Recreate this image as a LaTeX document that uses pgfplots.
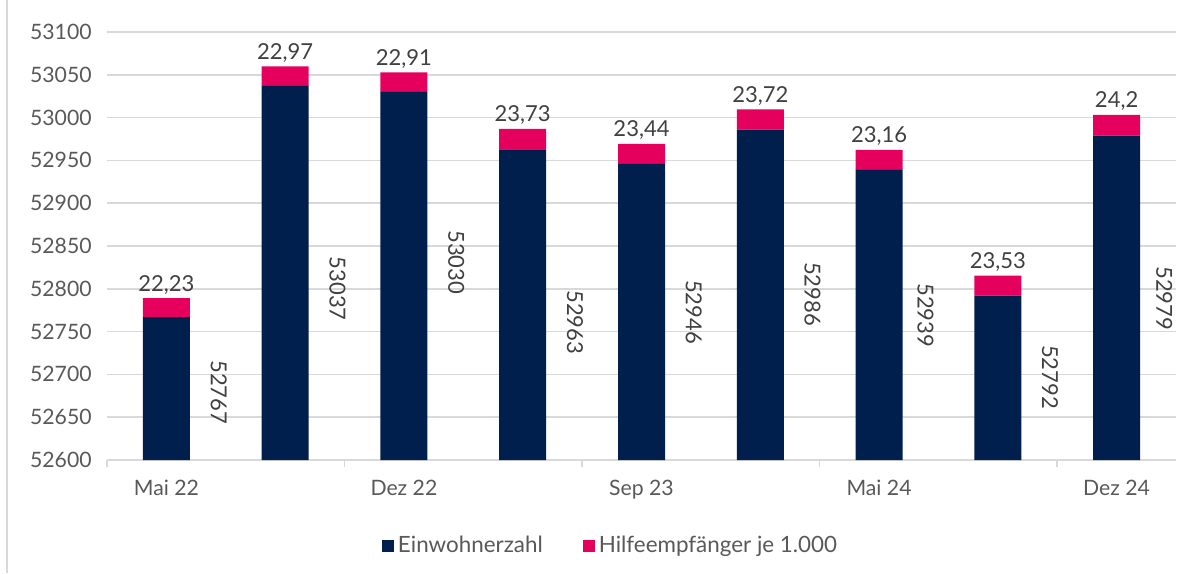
\documentclass[border=0pt]{standalone}
\usepackage{fontspec}
\setmainfont{Lato}
\usepackage{pgfplots}
\pgfplotsset{compat=1.18}
\usepackage{pgfplotstable}
\definecolor{navy}{HTML}{001F4D}
\definecolor{pinkc}{HTML}{E5005E}
\definecolor{gridc}{HTML}{D9D9D9}
\definecolor{tickc}{HTML}{595959}
\definecolor{lblc}{HTML}{404040}
\newcommand\lbl{\fontsize{10.6pt}{12pt}\selectfont}
\newcommand\lgd{\fontsize{11.2pt}{13pt}\selectfont}
\newcommand\dlbl{\fontsize{11pt}{13pt}\selectfont}

\pgfplotstableread{
x ew hv
0 52767 22.23
1 53037 22.97
2 53030 22.91
3 52963 23.73
4 52946 23.44
5 52986 23.72
6 52939 23.16
7 52792 23.53
8 52979 24.2
}\data

\begin{document}
\begin{tikzpicture}
\useasboundingbox (-53.5pt,-56.5pt) rectangle (542.5pt,230pt);
\draw[gridc, line width=1pt] (-50pt,-56.5pt) -- (-50pt,230pt);
\begin{axis}[
  at={(0pt,0pt)}, anchor=south west,
  scale only axis,
  width=534.5pt, height=214pt,
  ybar stacked, bar width=23.5pt,
  xmin=-0.5, xmax=8.5,
  ymin=52600, ymax=53100,
  ytick={52600,52650,...,53100},
  xtick={0,2,4,6,8},
  xticklabels={Mai 22,Dez 22,Sep 23,Mai 24,Dez 24},
  minor xtick={-0.5,1.5,3.5,5.5,7.5},
  xtick pos=bottom, ytick pos=left,
  tick align=outside,
  major tick length=0pt,
  minor tick length=3.5pt,
  minor tick style={draw=gridc, line width=0.75pt},
  axis line style={draw=none},
  ymajorgrids,
  grid style={draw=gridc, line width=0.75pt},
  scaled y ticks=false,
  y tick label style={/pgf/number format/1000 sep={}, /pgf/number format/assume math mode=true, font=\lbl, text=tickc, inner sep=0pt, xshift=-7.5pt},
  x tick label style={font=\lbl, text=tickc, inner sep=0pt, yshift=-10pt},
  legend style={at={(0.472,-0.201)}, anchor=center, draw=none, fill=none, legend columns=2, font=\lgd, text=tickc,
    /tikz/every even column/.append style={column sep=18pt}},
  legend image code/.code={\fill[#1] (0pt,-3pt) rectangle (6pt,3pt);},
]
\addplot[fill=navy, draw=none] table[x=x,y=ew]{\data};
\addlegendentry{Einwohnerzahl}
\addplot[fill=pinkc, draw=none] table[x=x,y=hv]{\data};
\addlegendentry{Hilfeempfänger je 1.000}
% value labels above bars
\node[font=\dlbl, text=lblc, anchor=base, yshift=3.5pt] at (axis cs:0,52789.23) {22,23};
\node[font=\dlbl, text=lblc, anchor=base, yshift=3.5pt] at (axis cs:1,53059.97) {22,97};
\node[font=\dlbl, text=lblc, anchor=base, yshift=3.5pt] at (axis cs:2,53052.91) {22,91};
\node[font=\dlbl, text=lblc, anchor=base, yshift=3.5pt] at (axis cs:3,52986.73) {23,73};
\node[font=\dlbl, text=lblc, anchor=base, yshift=3.5pt] at (axis cs:4,52969.44) {23,44};
\node[font=\dlbl, text=lblc, anchor=base, yshift=3.5pt] at (axis cs:5,53009.72) {23,72};
\node[font=\dlbl, text=lblc, anchor=base, yshift=3.5pt] at (axis cs:6,52962.16) {23,16};
\node[font=\dlbl, text=lblc, anchor=base, yshift=3.5pt] at (axis cs:7,52815.53) {23,53};
\node[font=\dlbl, text=lblc, anchor=base, yshift=3.5pt] at (axis cs:8,53003.2) {24,2};
% rotated population labels
\node[rotate=-90, font=\dlbl, text=lblc] at (axis cs:0.44,52679) {52767};
\node[rotate=-90, font=\dlbl, text=lblc] at (axis cs:1.44,52800) {53037};
\node[rotate=-90, font=\dlbl, text=lblc] at (axis cs:2.44,52831) {53030};
\node[rotate=-90, font=\dlbl, text=lblc] at (axis cs:3.44,52761) {52963};
\node[rotate=-90, font=\dlbl, text=lblc] at (axis cs:4.44,52773) {52946};
\node[rotate=-90, font=\dlbl, text=lblc] at (axis cs:5.44,52794) {52986};
\node[rotate=-90, font=\dlbl, text=lblc] at (axis cs:6.39,52769) {52939};
\node[rotate=-90, font=\dlbl, text=lblc] at (axis cs:7.44,52697) {52792};
\node[rotate=-90, font=\dlbl, text=lblc] at (axis cs:8.40,52789) {52979};
\end{axis}
\end{tikzpicture}
\end{document}
